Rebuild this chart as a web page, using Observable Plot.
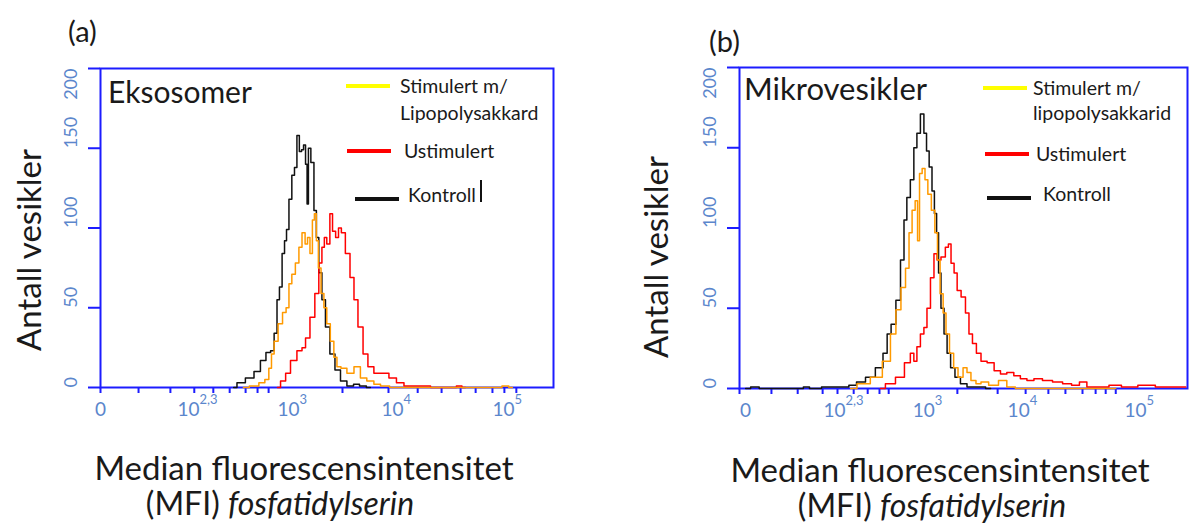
<!DOCTYPE html>
<html><head><meta charset="utf-8">
<script src="https://cdn.jsdelivr.net/npm/d3@7"></script>
<script src="https://cdn.jsdelivr.net/npm/@observablehq/plot@0.6"></script>
<style>
body{margin:0;background:#fff;}
#root{position:relative;width:1190px;height:526px;overflow:hidden;font-family:Lato,"Open Sans",sans-serif;color:#1a1a1a;}
.p{position:absolute;top:0;}
.t{position:absolute;white-space:nowrap;line-height:1;}
.sw{position:absolute;height:4px;}
</style></head><body><div id="root"></div>
<script>
// ---------- data (x = cytometer display channel 0–1024, y = number of vesicles) ----------
const seriesNames = ["Stimulert m/ lipopolysakkarid", "Ustimulert", "Kontroll"];
const seriesColors = ["#ff9a00", "#ff0000", "#111111"];

// Panel (a) Eksosomer
const aStimCh  = [323,350,366,377,384,389,396,407,416,423,429,436,445,452,459,466,470,477,481,486,490,495,502,508,515,524,531,538,549,565,581,594,610,626,640,667,900,915,931];
const aStimN   = [0,1,3,5,12,21,29,40,47,50,65,71,78,88,97,90,94,84,105,109,92,75,59,50,40,29,19,13,12,9,13,6,4,2,1,0,0,1,0];
const aUstCh   = [400,414,423,436,452,459,468,479,490,497,504,508,515,522,527,536,540,549,558,570,576,588,599,610,626,644,660,678,694,712,735,757,800,809,825];
const aUstN    = [0,4,9,17,23,25,31,44,59,78,88,94,90,109,98,94,100,97,84,69,55,38,21,13,9,9,6,3,1,1,1,0,0,1,0];
const aKonCh   = [301,316,339,355,368,380,389,396,402,407,414,418,423,429,436,441,447,452,457,461,466,468,472,479,486,490,497,504,513,524,536,549,565,579,592,610];
const aKonN    = [0,3,6,10,17,22,23,34,55,63,84,92,99,118,133,138,158,148,149,152,140,115,150,141,111,94,72,55,38,21,11,4,1,2,1,0];

// Panel (b) Mikrovesikler
const bStimCh  = [254,283,315,338,352,363,375,384,391,398,405,409,414,421,427,434,443,450,455,462,469,475,485,494,505,517,523,535,546,558,581,603,619,642,860];
const bStimN   = [0,3,7,17,34,49,63,75,97,111,117,92,134,137,130,121,111,97,80,59,47,34,22,13,7,13,10,5,3,4,2,5,1,0,0];
const bUstCh   = [322,345,368,386,395,402,409,418,425,432,441,448,455,466,475,480,487,494,501,512,521,528,537,546,558,574,590,603,619,635,649,665,681,704,727,750,768,786,802,825,864,882,939,962,1020];
const bUstN    = [0,3,7,16,22,17,26,34,38,50,69,84,80,82,88,90,78,72,61,57,47,34,28,22,17,16,11,9,10,8,6,5,6,5,4,3,2,4,1,1,2,1,2,1,1];
const bKonCh   = [14,37,53,139,153,167,208,242,258,277,299,322,334,341,352,363,373,379,386,395,402,409,418,425,430,437,443,448,453,457,464,471,478,487,498,512,528,551,574];
const bKonN    = [0,1,0,0,1,0,1,1,2,4,7,13,22,34,40,55,80,105,119,130,150,159,171,159,148,138,123,109,97,72,50,34,22,13,7,3,1,1,0];

// axes
const yTicks = [0, 50, 100, 150, 200];
const aXTicks = [0,86,158,212,255,292,328,355,380,547,651,717,771,814,848,886,913,940];
const bXTicks = [0,73,133,190,224,261,293,320,341,498,590,654,706,745,784,814,837,860];
const xLabelBase = ["0", "10", "10", "10", "10"];
const xLabelSup  = ["", "2,3", "3", "4", "5"];
const aXLabelPos = [0, 199, 425, 660, 911];
const bXLabelPos = [14, 217, 421, 638, 905];

const panelTitles = ["Eksosomer", "Mikrovesikler"];
const panelLetters = ["(a)", "(b)"];
const yTitle = "Antall vesikler";
const xTitle1 = "Median fluorescensintensitet";
const xTitle2a = "(MFI) ";
const xTitle2b = "fosfatidylserin";

// ---------- build ----------
const blue = "#1c1cff";
const tickBlue = "#5b86cc";

function rows(chs, ns, s) { return chs.map((c, i) => ({ch: c, n: ns[i], s})); }

function panel(data, xTicks, labelPos, m) {
  const marks = [
    Plot.frame({stroke: blue, strokeWidth: 2}),
    Plot.axisY({ticks: yTicks, tickSize: 12, stroke: blue, strokeWidth: 2, tickFormat: () => "", label: null}),
    Plot.axisX({ticks: xTicks, tickSize: 6, stroke: blue, strokeWidth: 2, tickFormat: () => "", label: null}),
    Plot.text(yTicks.filter(d => d < 200), {y: d => d, text: d => String(d), frameAnchor: "left", dx: -29, rotate: -90, fill: tickBlue, fontSize: 18}),
    Plot.text(yTicks.filter(d => d === 200), {y: d => d, text: d => String(d), frameAnchor: "left", dx: -29, rotate: -90, textAnchor: "end", fill: tickBlue, fontSize: 18}),
    Plot.text(labelPos, {x: d => d, text: (d, i) => xLabelBase[i], frameAnchor: "bottom", dy: 28, fill: tickBlue, fontSize: 19}),
    Plot.text(labelPos, {x: d => d, text: (d, i) => xLabelSup[i], frameAnchor: "bottom", dy: 16, dx: 11, textAnchor: "start", fill: tickBlue, fontSize: 13}),
  ];
  [2, 1, 0].forEach(k => {
    marks.push(Plot.line(data.filter(d => d.s === seriesNames[k]), {x: "ch", y: "n", curve: "step", stroke: seriesColors[k], strokeWidth: 1.5}));
  });
  return Plot.plot({
    width: 595, height: 526,
    marginLeft: m[0], marginRight: m[1], marginTop: m[2], marginBottom: m[3],
    x: {domain: [0, 1024], axis: null},
    y: {domain: [0, 200], axis: null},
    style: {background: "transparent", fontFamily: "Lato, 'Open Sans', sans-serif"},
    marks
  });
}

const root = document.getElementById("root");
const dataA = [...rows(aStimCh, aStimN, seriesNames[0]), ...rows(aUstCh, aUstN, seriesNames[1]), ...rows(aKonCh, aKonN, seriesNames[2])];
const dataB = [...rows(bStimCh, bStimN, seriesNames[0]), ...rows(bUstCh, bUstN, seriesNames[1]), ...rows(bKonCh, bKonN, seriesNames[2])];

const pa = panel(dataA, aXTicks, aXLabelPos, [100, 42, 68, 139]);
pa.classList.add("p"); pa.style.left = "0px"; root.appendChild(pa);
const pb = panel(dataB, bXTicks, bXLabelPos, [144, 3, 67, 138]);
pb.classList.add("p"); pb.style.left = "595px"; root.appendChild(pb);

function txt(html, x, cy, size, extra) {
  const d = document.createElement("div");
  d.className = "t";
  d.innerHTML = html;
  d.style.left = x + "px"; d.style.top = cy + "px"; d.style.fontSize = size + "px";
  d.style.transform = "translateY(-50%)";
  if (extra) Object.assign(d.style, extra);
  root.appendChild(d);
  return d;
}
function centered(html, cx, cy, size, rot) {
  return txt(html, cx, cy, size, {transform: "translate(-50%,-50%)" + (rot ? " rotate(-90deg)" : "")});
}
function swatch(x1, x2, y, color, h) {
  const d = document.createElement("div");
  d.className = "sw";
  const hh = h || 4;
  d.style.left = x1 + "px"; d.style.width = (x2 - x1) + "px"; d.style.top = (y - hh / 2) + "px"; d.style.height = hh + "px"; d.style.background = color;
  root.appendChild(d);
}

// panel (a) annotations
txt(panelLetters[0], 68, 30, 29);
txt(panelTitles[0], 108, 91, 30);
swatch(346, 390, 86, "#ffff00");
txt("Stimulert m/", 400, 86, 19.5);
txt("Lipopolysakkard", 400, 113, 19.5);
swatch(347, 391, 151, seriesColors[1]);
txt(seriesNames[1], 404, 151, 19.5);
swatch(355, 399, 199, seriesColors[2]);
txt(seriesNames[2], 408, 195, 19.5);
swatch(480, 482, 191, "#111", 22);
centered(yTitle, 28, 250, 33, true);
centered(xTitle1, 304, 467, 33);
centered(xTitle2a + "<i>" + xTitle2b + "</i>", 280, 503, 32);

// panel (b) annotations
txt(panelLetters[1], 709, 40, 29);
txt(panelTitles[1], 744, 88, 31);
swatch(983, 1027, 88, "#ffff00");
txt("Stimulert m/", 1033, 88, 19.5);
txt("lipopolysakkarid", 1033, 113, 19.5);
swatch(985, 1029, 154, seriesColors[1]);
txt(seriesNames[1], 1036, 154, 19.5);
swatch(987, 1031, 198, seriesColors[2]);
txt(seriesNames[2], 1043, 194, 19.5);
centered(yTitle, 655, 257, 33, true);
centered(xTitle1, 940, 469, 33);
centered(xTitle2a + "<i>" + xTitle2b + "</i>", 932, 505, 32);
</script></body></html>
